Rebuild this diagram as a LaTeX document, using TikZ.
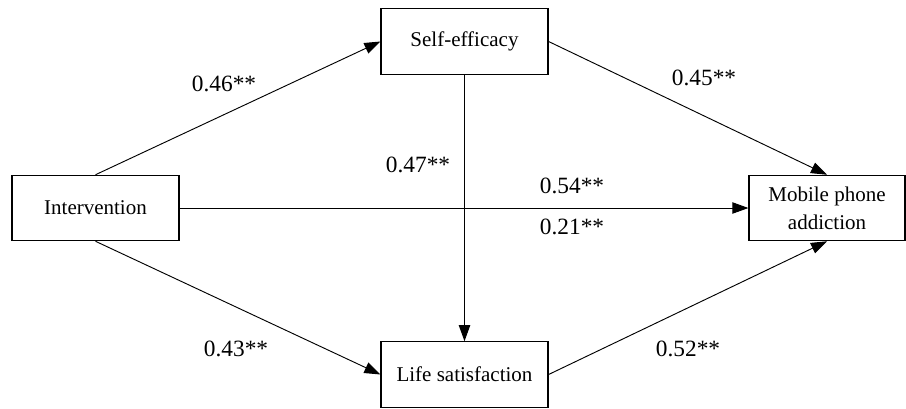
\documentclass[tikz,border=0pt]{standalone}
\usepackage{fontspec}
\setmainfont{Liberation Serif}
\usetikzlibrary{arrows.meta, positioning}

\begin{document}
\begin{tikzpicture}[
  x=0.75pt, y=-0.75pt,
  var/.style={draw, line width=0.9pt, minimum width=125.25pt, minimum height=49pt, align=center, font=\fontsize{15.75}{21}\selectfont, inner sep=2pt},
  path/.style={-{Triangle[length=12pt, width=8.5pt]}, line width=0.7pt},
  coef/.style={font=\fontsize{17.5}{20}\selectfont, inner sep=1pt}
]
\useasboundingbox (0,0) rectangle (906,408);

\node[var] (interv) at (95.5,208) {Intervention};
\node[var] (selfeff) at (464.5,41.5) {Self-efficacy};
\node[var] (lifesat) at (464.5,374.5) {Life satisfaction};
\node[var, minimum width=117pt] (mobile) at (827,208) {Mobile phone\\addiction};

\draw[path] (interv.north) -- (selfeff.west);
\draw[path] (interv.south) -- (lifesat.west);
\draw[path] (interv.east) -- (mobile.west);
\draw[path] (selfeff.east) -- (mobile.north);
\draw[path] (lifesat.east) -- (mobile.south);
\draw[path] (selfeff.south) -- (lifesat.north);

\node[coef] (c46) at (224,84) {0.46**};
\node[coef] (c43) at (236,349) {0.43**};
\node[coef] (c45) at (704,78) {0.45**};
\node[coef] (c52) at (688,349) {0.52**};
\node[coef] (c47) at (418,165) {0.47**};
\node[coef] (c54) at (572,186) {0.54**};
\node[coef] (c21) at (572,227) {0.21**};

\end{tikzpicture}
\end{document}
